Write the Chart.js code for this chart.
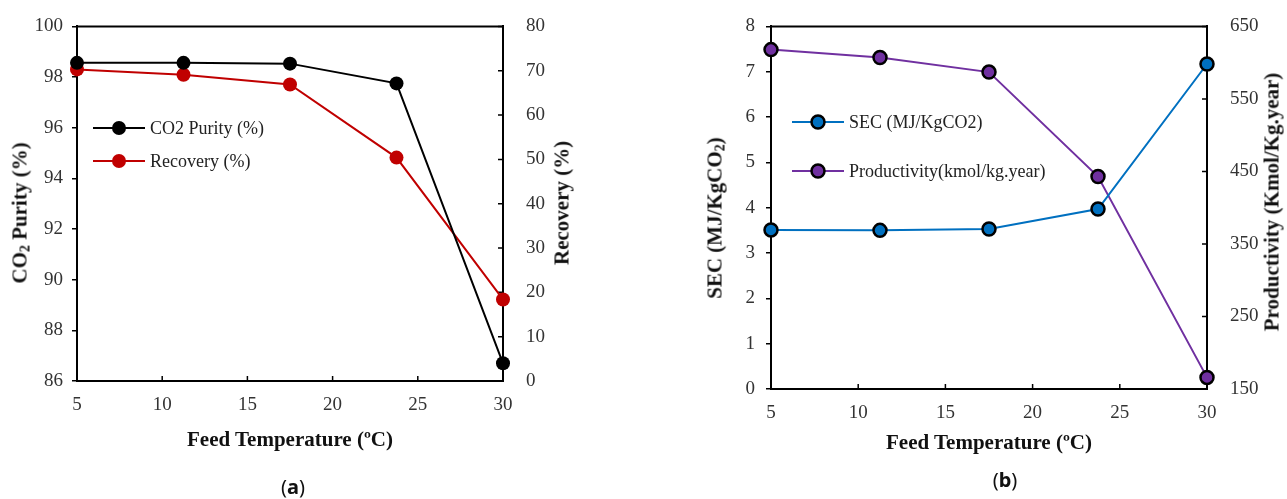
<!DOCTYPE html>
<html>
<head>
<meta charset="utf-8">
<script src="https://cdn.jsdelivr.net/npm/chart.js@4.4.1/dist/chart.umd.min.js"></script>
<style>
  body { margin:0; width:1287px; height:499px; background:#fff; position:relative; overflow:hidden; font-family:"Liberation Serif", serif; color:#111; }
  .wrap { position:absolute; }
  .ttl { position:absolute; font-weight:bold; font-size:21px; white-space:nowrap; transform:translate(-50%,-50%); }
  .rot { transform:translate(-50%,-50%) rotate(-90deg); }
  .ttl sub { font-size:14px; vertical-align:-3px; line-height:0; }
  .cap { position:absolute; font-family:"Noto Sans", sans-serif; font-size:20px; transform:translate(-50%,-50%); }
  .leg { position:absolute; display:flex; align-items:center; height:20px; font-size:18px; white-space:nowrap; color:#222; }
  .leg svg { margin-right:5px; }
</style>
</head>
<body>

<div class="wrap" style="left:0;top:0;"><canvas id="chartA" width="620" height="440"></canvas></div>
<div class="wrap" style="left:680px;top:0;"><canvas id="chartB" width="600" height="440"></canvas></div>

<div class="ttl rot" style="left:20px;top:213px;">CO<sub>2</sub> Purity (%)</div>
<div class="ttl rot" style="left:562px;top:203px;">Recovery (%)</div>
<div class="ttl" style="left:290px;top:439px;">Feed Temperature (ºC)</div>
<div class="cap" style="left:293px;top:486px;">(<b>a</b>)</div>

<div class="ttl rot" style="left:715px;top:218px;">SEC (MJ/KgCO<sub>2</sub>)</div>
<div class="ttl rot" style="left:1272px;top:202px;">Productivity (Kmol/Kg.year)</div>
<div class="ttl" style="left:989px;top:442px;">Feed Temperature (ºC)</div>
<div class="cap" style="left:1005px;top:479px;">(<b>b</b>)</div>

<div id="legA"></div>
<div id="legB"></div>

<script>
// ---- data ----
const temps = [5, 11.25, 17.5, 23.75, 30];
const purity = [98.56, 98.56, 98.53, 97.75, 86.7];
const recovery = [70.3, 69.1, 66.9, 50.4, 18.4];
const sec = [3.51, 3.50, 3.53, 3.97, 7.17];
const productivity = [618, 607, 587, 443, 166];

const BLACK = '#000000';
const RED = '#c00000';
const BLUE = '#0070c0';
const PURPLE = '#7030a0';

const pts = (ys) => temps.map((x, i) => ({ x, y: ys[i] }));
const tickFont = { family: "'Liberation Serif', 'Times New Roman', serif", size: 19 };

// top frame line + inward tick marks on bottom and right axes
const frameTicks = {
  id: 'frameTicks',
  beforeDatasetsDraw(chart) {
    const { ctx, chartArea: a, scales } = chart;
    ctx.save();
    ctx.strokeStyle = '#000';
    ctx.lineWidth = 2;
    ctx.beginPath();
    ctx.moveTo(a.left - 1, a.top);
    ctx.lineTo(a.right + 1, a.top);
    ctx.stroke();
    ctx.lineWidth = 1.5;
    ctx.beginPath();
    scales.x.ticks.forEach(t => {
      const px = scales.x.getPixelForValue(t.value);
      ctx.moveTo(px, a.bottom);
      ctx.lineTo(px, a.bottom - 5);
    });
    scales.y2.ticks.forEach(t => {
      const py = scales.y2.getPixelForValue(t.value);
      ctx.moveTo(a.right, py);
      ctx.lineTo(a.right - 5, py);
    });
    ctx.stroke();
    ctx.restore();
  }
};

function makeOpts(cfg) {
  return {
    responsive: false,
    animation: false,
    layout: { padding: { top: cfg.top, left: 0, right: 0, bottom: 0 } },
    plugins: { legend: { display: false }, tooltip: { enabled: false } },
    scales: {
      x: {
        type: 'linear', min: 5, max: 30,
        grid: { display: false },
        border: { display: true, color: '#000', width: 2 },
        ticks: { stepSize: 5, font: tickFont, color: '#333', padding: 5, maxRotation: 0 },
        afterFit: (s) => { s.height = cfg.xh; }
      },
      y: {
        position: 'left', min: cfg.yMin, max: cfg.yMax,
        grid: { display: true, drawOnChartArea: false, drawTicks: true, tickLength: 5, color: '#000', lineWidth: 1.5 },
        border: { display: true, color: '#000', width: 2 },
        ticks: { stepSize: cfg.yStep, font: tickFont, color: '#333', padding: cfg.lpad },
        afterFit: (s) => { s.width = cfg.lw; }
      },
      y2: {
        position: 'right', min: cfg.y2Min, max: cfg.y2Max,
        grid: { display: false },
        border: { display: true, color: '#000', width: 2 },
        ticks: { stepSize: cfg.y2Step, font: tickFont, color: '#333', padding: 15 },
        afterFit: (s) => { s.width = cfg.rw; }
      }
    }
  };
}

new Chart(document.getElementById('chartA'), {
  type: 'line',
  data: {
    datasets: [
      { label: 'CO2 Purity (%)', data: pts(purity), yAxisID: 'y', borderColor: BLACK, backgroundColor: BLACK,
        borderWidth: 2, pointRadius: 7, pointBorderWidth: 0, pointBackgroundColor: BLACK, tension: 0, clip: false },
      { label: 'Recovery (%)', data: pts(recovery), yAxisID: 'y2', borderColor: RED, backgroundColor: RED,
        borderWidth: 2, pointRadius: 7, pointBorderWidth: 0, pointBackgroundColor: RED, tension: 0, clip: false }
    ]
  },
  options: makeOpts({ top: 25, xh: 59, lw: 77, rw: 117, lpad: 9,
    yMin: 86, yMax: 100, yStep: 2, y2Min: 0, y2Max: 80, y2Step: 10 }),
  plugins: [frameTicks]
});

new Chart(document.getElementById('chartB'), {
  type: 'line',
  data: {
    datasets: [
      { label: 'SEC (MJ/KgCO2)', data: pts(sec), yAxisID: 'y', borderColor: BLUE, backgroundColor: BLUE,
        borderWidth: 2, pointRadius: 6.5, pointBorderWidth: 2.5, pointBorderColor: '#000', pointBackgroundColor: BLUE, tension: 0, clip: false },
      { label: 'Productivity(kmol/kg.year)', data: pts(productivity), yAxisID: 'y2', borderColor: PURPLE, backgroundColor: PURPLE,
        borderWidth: 2, pointRadius: 6.5, pointBorderWidth: 2.5, pointBorderColor: '#000', pointBackgroundColor: PURPLE, tension: 0, clip: false }
    ]
  },
  options: makeOpts({ top: 20, xh: 51, lw: 91, rw: 73, lpad: 11,
    yMin: 0, yMax: 8, yStep: 1, y2Min: 150, y2Max: 650, y2Step: 100 }),
  plugins: [frameTicks]
});

// ---- legends (line + marker + text) ----
function legendItem(left, cy, color, label, outlined) {
  const stroke = outlined ? 'stroke="#000" stroke-width="2.5"' : '';
  const r = outlined ? 6.5 : 7;
  return `<div class="leg" style="left:${left}px;top:${cy - 10}px;">
    <svg width="52" height="20"><line x1="0" y1="10" x2="52" y2="10" stroke="${color}" stroke-width="2"/>
    <circle cx="26" cy="10" r="${r}" fill="${color}" ${stroke}/></svg>${label}</div>`;
}
document.getElementById('legA').innerHTML =
  legendItem(93, 128, BLACK, 'CO2 Purity (%)', false) +
  legendItem(93, 161, RED, 'Recovery (%)', false);
document.getElementById('legB').innerHTML =
  legendItem(792, 122, BLUE, 'SEC (MJ/KgCO2)', true) +
  legendItem(792, 171, PURPLE, 'Productivity(kmol/kg.year)', true);
</script>
</body>
</html>
